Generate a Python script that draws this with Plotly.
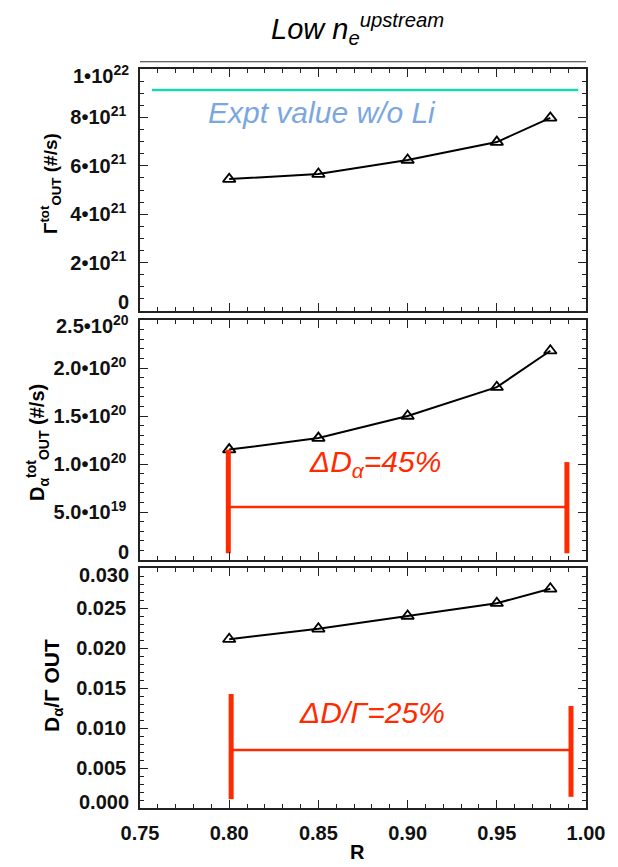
import plotly.graph_objects as go

# ---- data ----
R = [0.80, 0.85, 0.90, 0.95, 0.98]
gamma_out = [5.45e21, 5.66e21, 6.24e21, 6.98e21, 7.98e21]
dalpha_out = [1.15e20, 1.27e20, 1.50e20, 1.80e20, 2.18e20]
ratio_out = [0.0211, 0.0224, 0.0240, 0.0256, 0.0274]

expt_x = [0.7567, 0.9957]
expt_val = 9.13e21

# red bracket annotations: (x_left, x_right), left bar (y0,y1), right bar (y0,y1), horizontal y
br2_x = [0.7995, 0.9893]
br2_left = [0.07e20, 1.15e20]
br2_right = [0.07e20, 1.02e20]
br2_h = 0.552e20

br3_x = [0.8011, 0.9916]
br3_left = [0.0011, 0.01425]
br3_right = [0.0014, 0.01275]
br3_h = 0.00725

y1_ticks = [0, 2e21, 4e21, 6e21, 8e21, 1e22]
y1_text = ["0", "2•10<sup>21</sup>", "4•10<sup>21</sup>", "6•10<sup>21</sup>",
           "8•10<sup>21</sup>", "1•10<sup>22</sup>"]
y2_ticks = [0, 5e19, 1e20, 1.5e20, 2e20, 2.5e20]
y2_text = ["0", "5.0•10<sup>19</sup>", "1.0•10<sup>20</sup>", "1.5•10<sup>20</sup>",
           "2.0•10<sup>20</sup>", "2.5•10<sup>20</sup>"]
y3_ticks = [0, 0.005, 0.010, 0.015, 0.020, 0.025, 0.030]
y3_text = ["0.000", "0.005", "0.010", "0.015", "0.020", "0.025", "0.030"]

# ---- style ----
W, H = 618, 867
FONT = "Liberation Sans"
AX = "#222222"
RED = "#ff2a00"
CYAN = "#1ad6b6"
BLUE = "#7ba7e0"
TICKC = "#111111"

xdom = [140 / W, 586 / W]
def ydom(top, bot):
    return [1 - bot / H, 1 - top / H]

fig = go.Figure()

def data_trace(y, xa, ya):
    fig.add_trace(go.Scatter(
        x=R, y=y, xaxis=xa, yaxis=ya, mode="lines+markers",
        line=dict(color="black", width=2),
        marker=dict(symbol="triangle-up-open", size=11, color="black",
                    line=dict(width=1.8, color="black")),
        showlegend=False, hoverinfo="skip"))

data_trace(gamma_out, "x", "y")
data_trace(dalpha_out, "x2", "y2")
data_trace(ratio_out, "x3", "y3")

# expt line
fig.add_trace(go.Scatter(x=expt_x, y=[expt_val, expt_val], xaxis="x", yaxis="y",
                         mode="lines", line=dict(color=CYAN, width=2.5),
                         showlegend=False, hoverinfo="skip"))

def bracket(xs, left, right, hy, xa, ya):
    fig.add_trace(go.Scatter(x=[xs[0], xs[0]], y=left, xaxis=xa, yaxis=ya, mode="lines",
                             line=dict(color=RED, width=5), showlegend=False, hoverinfo="skip"))
    fig.add_trace(go.Scatter(x=[xs[1], xs[1]], y=right, xaxis=xa, yaxis=ya, mode="lines",
                             line=dict(color=RED, width=5), showlegend=False, hoverinfo="skip"))
    fig.add_trace(go.Scatter(x=xs, y=[hy, hy], xaxis=xa, yaxis=ya, mode="lines",
                             line=dict(color=RED, width=2.5), showlegend=False, hoverinfo="skip"))

bracket(br2_x, br2_left, br2_right, br2_h, "x2", "y2")
bracket(br3_x, br3_left, br3_right, br3_h, "x3", "y3")

tickfont = dict(family=FONT, size=20, color=TICKC, weight="bold")

def xaxis(anchor, labels):
    return dict(domain=xdom, anchor=anchor, range=[0.75, 1.0], dtick=0.05, tick0=0.75,
                tickformat=".2f", showticklabels=labels, ticks="inside", ticklen=8,
                tickwidth=1.2, tickcolor=AX, mirror="ticks", showline=True,
                linecolor=AX, linewidth=1.5, showgrid=False, zeroline=False,
                tickfont=tickfont, ticklabelstandoff=6, automargin=False,
                minor=dict(ticks="inside", dtick=0.01, ticklen=4, tickcolor=AX, tickwidth=1))

def yaxis(anchor, dom, rng, minor_dtick, vals, texts):
    # extreme labels are drawn as annotations (nudged inward like the original)
    inner = [""] + texts[1:-1] + [""]
    return dict(domain=dom, anchor=anchor, range=rng, ticks="inside", ticklen=8,
                tickwidth=1.2, tickcolor=AX, mirror="ticks", showline=True,
                linecolor=AX, linewidth=1.5, showgrid=False, zeroline=False,
                tickvals=vals, ticktext=inner,
                tickfont=tickfont, ticklabelstandoff=8, automargin=False,
                minor=dict(ticks="inside", dtick=minor_dtick, ticklen=4, tickcolor=AX, tickwidth=1))

fig.update_layout(
    template="none",
    width=W, height=H, margin=dict(l=0, r=0, t=0, b=0, autoexpand=False),
    paper_bgcolor="white", plot_bgcolor="white",
    font=dict(family=FONT, color="black"),
    xaxis=xaxis("y", False), xaxis2=xaxis("y2", False), xaxis3=xaxis("y3", True),
    yaxis=yaxis("x", ydom(69, 311), [0, 1e22], 0.5e21, y1_ticks, y1_text),
    yaxis2=yaxis("x2", ydom(320, 560), [0, 2.5e20], 1e19, y2_ticks, y2_text),
    yaxis3=yaxis("x3", ydom(568, 808), [0, 0.030], 0.001, y3_ticks, y3_text),
)

ann = []
def edge_labels(yref, vals, texts, shift_bot, shift_top):
    for v, t, s in [(vals[0], texts[0], shift_bot), (vals[-1], texts[-1], shift_top)]:
        ann.append(dict(text=t, x=131 / W, y=v, xref="paper", yref=yref, yshift=s,
                        xanchor="right", yanchor="middle", showarrow=False,
                        font=tickfont))

edge_labels("y", y1_ticks, y1_text, 9, -5)
edge_labels("y2", y2_ticks, y2_text, 8, -5)
edge_labels("y3", y3_ticks, y3_text, 6, -7)

ann.append(dict(text="<i>Low n<sub>e</sub><sup>upstream</sup></i>", x=357 / W, y=1 - 29 / H,
                xref="paper", yref="paper", xanchor="center", yanchor="middle", showarrow=False,
                font=dict(family=FONT, size=29, color="black")))
ann.append(dict(text="<i>Expt value w/o Li</i>", x=0.852, y=8.22e21, xref="x", yref="y",
                showarrow=False, font=dict(family=FONT, size=30, color=BLUE)))
ann.append(dict(text="<i>ΔD<sub>α</sub>=45%</i>", x=0.8817, y=1.0e20, xref="x2", yref="y2",
                showarrow=False, font=dict(family=FONT, size=30, color=RED)))
ann.append(dict(text="<i>ΔD/Γ=25%</i>", x=0.880, y=0.0119, xref="x3", yref="y3",
                showarrow=False, font=dict(family=FONT, size=30, color=RED)))
ann.append(dict(text="<b>R</b>", x=357 / W, y=1 - 852 / H, xref="paper", yref="paper",
                xanchor="center", yanchor="middle",
                showarrow=False, font=dict(family=FONT, size=20, color="black")))
ann.append(dict(text="<b>Γ<sup>tot</sup><sub>OUT</sub> (#/s)</b>", x=50 / W, y=1 - 184 / H,
                xref="paper", yref="paper", xanchor="center", yanchor="middle",
                showarrow=False, textangle=-90,
                font=dict(family=FONT, size=19, color="black")))
ann.append(dict(text="<b>D<sub>α</sub><sup>tot</sup><sub>OUT</sub> (#/s)</b>", x=37 / W, y=1 - 443 / H,
                xref="paper", yref="paper", xanchor="center", yanchor="middle",
                showarrow=False, textangle=-90,
                font=dict(family=FONT, size=20, color="black")))
ann.append(dict(text="<b>D<sub>α</sub>/Γ OUT</b>", x=53 / W, y=1 - 686 / H,
                xref="paper", yref="paper", xanchor="center", yanchor="middle",
                showarrow=False, textangle=-90,
                font=dict(family=FONT, size=21, color="black")))
fig.update_layout(annotations=ann)

# thin line above the top panel
fig.add_shape(type="line", xref="x domain", yref="y domain", x0=0, x1=1, y0=1.03, y1=1.03,
              line=dict(color="#333333", width=1.2))

fig.write_html("out.html")
